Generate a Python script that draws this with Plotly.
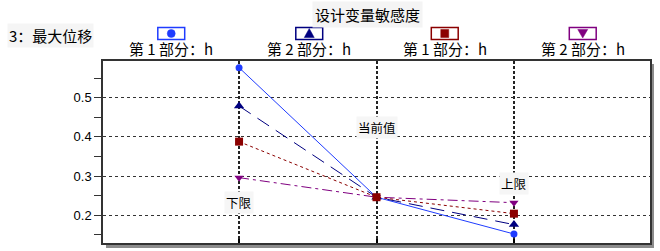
import plotly.graph_objects as go

# Design variable sensitivity: response "3：最大位移" at lower bound / current value / upper bound
positions = [-1, 0, 1]
position_labels = ["下限", "当前值", "上限"]
label_levels = [0.232, 0.4245, 0.282]

series_names = ["第 1 部分：h", "第 2 部分：h", "第 1 部分：h", "第 2 部分：h"]
s1_values = [0.577, 0.246, 0.152]
s2_values = [0.479, 0.246, 0.176]
s3_values = [0.388, 0.246, 0.204]
s4_values = [0.296, 0.246, 0.232]

y_ticks = [0.2, 0.3, 0.4, 0.5]
y_minor = [0.15, 0.25, 0.35, 0.45, 0.55]

W, H = 660, 251
L, R, T, B = 103, 8, 61, 8
PW, PH = W - L - R, H - T - B
X_RANGE = [-1.99, 1.99]
Y_RANGE = [0.129, 0.594]

def px_x(px):
    return (px - L) / PW

def px_y(py):
    return (H - B - py) / PH

def paper_path(points):
    parts = [f"{px_x(x):.5f},{px_y(y):.5f}" for x, y in points]
    return "M" + " L".join(parts) + " Z"

cjk = "Noto Sans CJK SC, Noto Sans, sans-serif"
num_font = "Liberation Sans, Arial, sans-serif"

styles = [
    dict(color="#1f3cff", dash="solid", symbol="circle", size=7),
    dict(color="#000080", dash="14px,8px", symbol="triangle-up", size=9),
    dict(color="#8b0000", dash="3px,3px", symbol="square", size=8),
    dict(color="#800080", dash="10px,4px,3px,4px", symbol="triangle-down", size=8),
]
all_values = [s1_values, s2_values, s3_values, s4_values]

fig = go.Figure()
for idx in [0, 1, 3, 2]:
    st = styles[idx]
    fig.add_trace(go.Scatter(
        x=positions, y=all_values[idx], mode="lines+markers",
        name=series_names[idx], showlegend=False,
        line=dict(color=st["color"], width=1, dash=st["dash"]),
        marker=dict(symbol=st["symbol"], size=st["size"], color=st["color"]),
        cliponaxis=False,
    ))

# legend: boxed symbols with labels underneath
legend_cx = [171.5, 310, 446, 584.5]
ly = 33.5
shapes = []
annotations = []
for i, cx in enumerate(legend_cx):
    col = styles[i]["color"]
    shapes.append(dict(type="rect", xref="paper", yref="paper", layer="below",
                       x0=px_x(cx - 13.5), x1=px_x(cx + 13.5), y0=px_y(39.5), y1=px_y(27.5),
                       line=dict(color=col, width=1.5), fillcolor="white"))
    sym = styles[i]["symbol"]
    if sym == "circle":
        glyph = dict(type="circle", x0=px_x(cx - 4), x1=px_x(cx + 4),
                     y0=px_y(ly + 4), y1=px_y(ly - 4))
    elif sym == "square":
        glyph = dict(type="rect", x0=px_x(cx - 4), x1=px_x(cx + 4),
                     y0=px_y(ly + 4), y1=px_y(ly - 4))
    elif sym == "triangle-up":
        glyph = dict(type="path", path=paper_path([(cx - 5, ly + 4), (cx + 5, ly + 4), (cx, ly - 5)]))
    else:
        glyph = dict(type="path", path=paper_path([(cx - 5, ly - 4), (cx + 5, ly - 4), (cx, ly + 4.5)]))
    glyph.update(xref="paper", yref="paper", fillcolor=col, line=dict(color=col, width=0.5))
    shapes.append(glyph)
    annotations.append(dict(xref="paper", yref="paper", x=px_x(cx), y=px_y(48),
                            text=series_names[i], showarrow=False,
                            xanchor="center", yanchor="middle",
                            font=dict(family=cjk, size=15, color="black")))

# drop shadow under and right of the frame
shapes.append(dict(type="rect", xref="paper", yref="paper", layer="below",
                   x0=px_x(106), x1=px_x(656), y0=px_y(248), y1=px_y(243),
                   line=dict(width=0), fillcolor="#8c8c8c"))
shapes.append(dict(type="rect", xref="paper", yref="paper", layer="below",
                   x0=px_x(652), x1=px_x(656), y0=px_y(248), y1=px_y(64),
                   line=dict(width=0), fillcolor="#8c8c8c"))

annotations.append(dict(xref="paper", yref="paper", x=px_x(W / 2 + 38), y=px_y(14),
                        text="设计变量敏感度", showarrow=False, bgcolor="#f4f4f4",
                        xanchor="center", yanchor="middle", borderpad=2,
                        font=dict(family=cjk, size=15, color="black")))
annotations.append(dict(xref="paper", yref="paper", x=px_x(7), y=px_y(35),
                        text="3：最大位移", showarrow=False, bgcolor="#f5f5f5",
                        xanchor="left", yanchor="middle",
                        font=dict(family=cjk, size=15, color="black")))

for xp, lab, lv in zip(positions, position_labels, label_levels):
    annotations.append(dict(x=xp, y=lv, xref="x", yref="y", text=lab, showarrow=False,
                            bgcolor="#f6f6f6", borderpad=1,
                            xanchor="center", yanchor="middle",
                            font=dict(family=cjk, size=12.5, color="black")))

fig.update_layout(
    width=W, height=H,
    margin=dict(l=L, r=R, t=T, b=B),
    paper_bgcolor="white", plot_bgcolor="white",
    shapes=shapes, annotations=annotations,
    xaxis=dict(range=X_RANGE, tickvals=positions, showticklabels=False,
               ticks="inside", ticklen=4, tickcolor="black", tickwidth=1.5,
               showgrid=True, gridcolor="#222222", griddash="3px,2px", gridwidth=1.5,
               zeroline=False, showline=True, mirror=True, linecolor="#333333", linewidth=1.5),
    yaxis=dict(range=Y_RANGE, tickvals=y_ticks, ticktext=[f"{v:.1f}" for v in y_ticks],
               ticks="outside", ticklen=7, tickcolor="#333333",
               minor=dict(tickvals=y_minor, ticks="outside", ticklen=7, tickcolor="#333333", showgrid=False),
               showgrid=True, gridcolor="#333333", griddash="3px,3px", gridwidth=1,
               zeroline=False, showline=True, mirror=True, linecolor="#333333", linewidth=1.5,
               tickfont=dict(family=num_font, size=13, color="black")),
    showlegend=False,
)

fig.write_html("out.html")
